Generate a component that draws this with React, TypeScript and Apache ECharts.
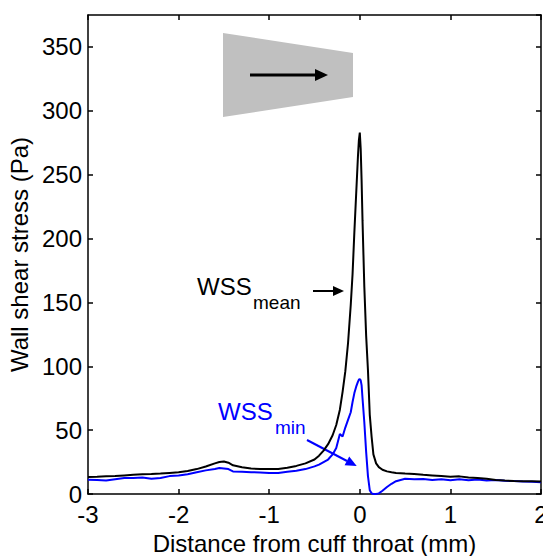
import React, { useEffect, useRef } from "react";
import * as echarts from "echarts";

const distance = [
  -3.0, -2.9, -2.8, -2.7, -2.6, -2.5, -2.4, -2.3, -2.2, -2.1, -2.0, -1.9, -1.8, -1.7, -1.6, -1.55, -1.5, -1.45,
  -1.4, -1.3, -1.2, -1.1, -1.0, -0.9, -0.8, -0.7, -0.6, -0.5, -0.45, -0.4, -0.35, -0.3, -0.26, -0.22, -0.19,
  -0.16, -0.13, -0.1, -0.08, -0.06, -0.04, -0.02, -0.01, 0.0, 0.01, 0.02, 0.03, 0.05, 0.07, 0.09, 0.11, 0.13,
  0.15, 0.18, 0.21, 0.25, 0.3, 0.35, 0.4, 0.5, 0.6, 0.7, 0.8, 0.9, 1.0, 1.1, 1.2, 1.3, 1.4, 1.5, 1.6, 1.7, 1.8,
  1.9, 2.0,
];

const wssMean = [
  13.3, 13.5, 13.8, 14, 14.5, 15, 15.5, 15.6, 16, 16.5, 17, 18, 19.5, 21.5, 24, 25, 25.5, 24.5,
  22.5, 21, 20, 19.5, 19.5, 19.5, 20.5, 22, 24, 27, 30, 34, 39, 46, 54, 66, 80,
  96, 118, 148, 172, 205, 235, 265, 277, 283, 270, 245, 214, 162, 124, 97, 62, 45,
  31, 24, 21, 19, 17.7, 17, 16.5, 16, 15.6, 15, 14.5, 14, 13.5, 13.8, 13, 12.5, 12, 11, 10.5, 10.2, 10,
  10, 9.8,
];

const wssMin = [
  11.2, 11, 10.5, 11.5, 12.5, 12.5, 13, 12, 12.5, 14, 14.5, 15.5, 17, 18.5, 19.5, 20.3, 20, 19.5,
  17.7, 17.5, 17, 16.9, 16.4, 16.5, 17.5, 18.2, 19.5, 21.6, 23, 25, 27, 31, 36, 47, 45,
  52, 58, 64, 72, 79, 84, 88, 89.5, 90, 89, 85, 75, 56, 33, 14, 3, 0.5,
  0, 0, 0.5, 2.5, 5.5, 8, 10, 12, 11.5, 11.8, 11, 11.5, 10.8, 11.5, 10.8, 11.3, 10.5, 11, 10.3, 10.2, 9.8,
  9.5, 9.2,
];

const xTicks = { min: -3, max: 2, interval: 1 };
const yTicks = { min: 0, max: 375, interval: 50 };

const FONT = "'Liberation Sans', Arial, Helvetica, sans-serif";

export default function App() {
  const ref = useRef<HTMLDivElement>(null);
  useEffect(() => {
    document.body.style.margin = "0";
    if (!ref.current) return;
    const chart = echarts.init(ref.current, null, { renderer: "svg" });
    const axisLine = { show: true, onZero: false, lineStyle: { color: "#000", width: 1.5 } };
    const tick = { show: true, inside: true, length: 5, lineStyle: { color: "#000", width: 1.5 } };
    const labelStyle = { color: "#000", fontSize: 24, fontFamily: FONT };
    const option: any = {
      animation: false,
      backgroundColor: "#fff",
      grid: { left: 88, right: 2, top: 15, bottom: 62, containLabel: false, outerBoundsMode: "none" },
      xAxis: [
        {
          type: "value",
          ...xTicks,
          position: "bottom",
          axisLine,
          axisTick: tick,
          splitLine: { show: false },
          axisLabel: { ...labelStyle, margin: 8 },
          name: "Distance from cuff throat (mm)",
          nameLocation: "middle",
          nameGap: 37,
          nameTextStyle: { color: "#000", fontSize: 24, fontFamily: FONT },
        },
        {
          type: "value",
          ...xTicks,
          position: "top",
          axisLine,
          axisTick: tick,
          splitLine: { show: false },
          axisLabel: { show: false },
        },
      ],
      yAxis: [
        {
          type: "value",
          ...yTicks,
          position: "left",
          axisLine,
          axisTick: tick,
          splitLine: { show: false },
          axisLabel: { ...labelStyle, margin: 6, showMaxLabel: false },
          name: "Wall shear stress (Pa)",
          nameLocation: "middle",
          nameGap: 53,
          nameRotate: 90,
          nameTextStyle: { color: "#000", fontSize: 24, fontFamily: FONT },
        },
        {
          type: "value",
          ...yTicks,
          position: "right",
          axisLine,
          axisTick: tick,
          splitLine: { show: false },
          axisLabel: { show: false },
        },
      ],
      series: [
        {
          type: "line",
          name: "WSS mean",
          xAxisIndex: 0,
          yAxisIndex: 0,
          showSymbol: false,
          clip: true,
          lineStyle: { color: "#000", width: 2 },
          itemStyle: { color: "#000" },
          data: distance.map((x, i) => [x, wssMean[i]]),
          z: 3,
        },
        {
          type: "line",
          name: "WSS min",
          xAxisIndex: 0,
          yAxisIndex: 0,
          showSymbol: false,
          clip: true,
          lineStyle: { color: "#0000ff", width: 2 },
          itemStyle: { color: "#0000ff" },
          data: distance.map((x, i) => [x, wssMin[i]]),
          z: 2,
        },
      ],
      graphic: [
        {
          type: "polygon",
          shape: { points: [[223, 33], [353, 53], [353, 97], [223, 117]] },
          style: { fill: "#c0c0c0" },
        },
        {
          type: "line",
          shape: { x1: 250, y1: 75, x2: 318, y2: 75 },
          style: { stroke: "#000", lineWidth: 3 },
        },
        {
          type: "polygon",
          shape: { points: [[315, 69], [328, 75], [315, 81]] },
          style: { fill: "#000" },
        },
        {
          type: "text",
          x: 197,
          y: 286,
          style: { text: "WSS", fill: "#000", fontSize: 24, fontFamily: FONT, verticalAlign: "middle" },
        },
        {
          type: "text",
          x: 253,
          y: 302,
          style: { text: "mean", fill: "#000", fontSize: 19, fontFamily: FONT, verticalAlign: "middle" },
        },
        {
          type: "line",
          shape: { x1: 313, y1: 291, x2: 334, y2: 291 },
          style: { stroke: "#000", lineWidth: 2 },
        },
        {
          type: "polygon",
          shape: { points: [[333, 286], [344, 291], [333, 296]] },
          style: { fill: "#000" },
        },
        {
          type: "text",
          x: 218,
          y: 411,
          style: { text: "WSS", fill: "#0000ff", fontSize: 24, fontFamily: FONT, verticalAlign: "middle" },
        },
        {
          type: "text",
          x: 275,
          y: 427,
          style: { text: "min", fill: "#0000ff", fontSize: 19, fontFamily: FONT, verticalAlign: "middle" },
        },
        {
          type: "line",
          shape: { x1: 307, y1: 440, x2: 347, y2: 461 },
          style: { stroke: "#0000ff", lineWidth: 2 },
        },
        {
          type: "polygon",
          shape: { points: [[344.6, 465.3], [349.2, 456.5], [356.7, 466]] },
          style: { fill: "#0000ff" },
        },
      ],
    };
    chart.setOption(option);
    return () => chart.dispose();
  }, []);
  return <div ref={ref} style={{ width: 543, height: 556 }} />;
}
